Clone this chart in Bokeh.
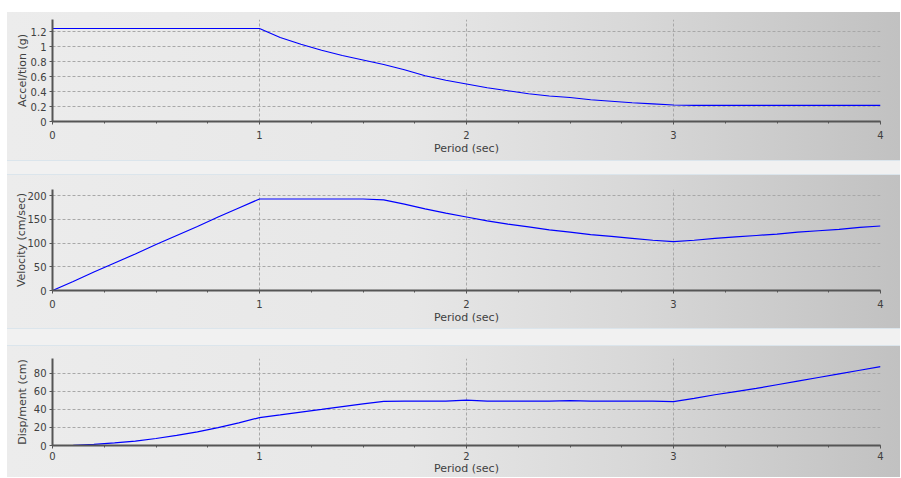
from bokeh.plotting import figure
from bokeh.layouts import column
from bokeh.models import Range1d, SingleIntervalTicker, NumeralTickFormatter, Div
from bokeh.embed import file_html
from bokeh.resources import INLINE

# ---- data ----
period = [0.0, 0.1, 0.2, 0.3, 0.4, 0.5, 0.6, 0.7, 0.8, 0.9,
          1.0, 1.1, 1.2, 1.3, 1.4, 1.5, 1.6, 1.7, 1.8, 1.9,
          2.0, 2.1, 2.2, 2.3, 2.4, 2.5, 2.6, 2.7, 2.8, 2.9,
          3.0, 3.1, 3.2, 3.3, 3.4, 3.5, 3.6, 3.7, 3.8, 3.9, 4.0]

acceleration = [1.24, 1.24, 1.24, 1.24, 1.24, 1.24, 1.24, 1.24, 1.24, 1.24,
                1.24, 1.12, 1.03, 0.95, 0.88, 0.82, 0.76, 0.69, 0.61, 0.55,
                0.50, 0.45, 0.41, 0.37, 0.34, 0.32, 0.29, 0.27, 0.25, 0.235,
                0.22, 0.215, 0.215, 0.215, 0.215, 0.215, 0.215, 0.215, 0.215, 0.215, 0.215]

velocity = [0, 19, 39, 58, 77, 97, 116, 135, 155, 174,
            193, 193, 193, 193, 193, 193, 191, 182, 172, 163,
            155, 147, 140, 134, 128, 123, 118, 114, 110, 106,
            103, 106, 110, 113, 116, 119, 123, 126, 129, 133, 136]

displacement = [0, 0.3, 1.2, 2.8, 4.9, 7.7, 11.1, 15.1, 19.7, 24.9,
                30.8, 33.8, 36.9, 39.8, 43.0, 46.0, 48.7, 49.0, 49.0, 49.0,
                50.0, 49.0, 49.0, 49.0, 49.0, 49.5, 49.0, 49.0, 49.0, 49.0,
                48.5, 52.0, 56.0, 59.5, 63.0, 67.0, 71.0, 75.0, 79.0, 83.0, 87.0]

x_label = "Period (sec)"
y_labels = ["Accel/tion (g)", "Velocity (cm/sec)", "Disp/ment (cm)"]

GRADIENT = "linear-gradient(to right, #ececec 0%, #e7e7e7 45%, #d8d8d8 70%, #c1c1c1 100%)"
TICK_FONT = "DejaVu Sans"
TITLE_FONT = "DejaVu Sans"
W = 893


def make_panel(ys, ylabel, y_end, y_step, height, top, bottom, ylab_standoff,
               xlab_standoff=6, xtitle_standoff=0):
    p = figure(width=W, height=height, output_backend="svg", toolbar_location=None,
               x_range=Range1d(0, 4), y_range=Range1d(0, y_end),
               min_border_left=45, min_border_right=20,
               min_border_top=top, min_border_bottom=bottom,
               background_fill_color=None, border_fill_color=None,
               outline_line_color=None, margin=0,
               styles={"background": GRADIENT})
    p.line(period, ys, line_color="#0000ff", line_width=1.2)

    p.xaxis.ticker = SingleIntervalTicker(interval=1, num_minor_ticks=4)
    p.yaxis.ticker = SingleIntervalTicker(interval=y_step, num_minor_ticks=0)
    p.yaxis.formatter = NumeralTickFormatter(format="0.[0]")

    for ax in (p.xaxis[0], p.yaxis[0]):
        ax.axis_line_color = "#555555"
        ax.axis_line_width = 2
        ax.major_tick_line_color = "#555555"
        ax.minor_tick_line_color = "#555555"
        ax.major_tick_in = 0
        ax.minor_tick_in = 0
        ax.major_tick_out = 3
        ax.minor_tick_out = 2
        ax.major_label_text_font = TICK_FONT
        ax.major_label_text_font_size = "10px"
        ax.major_label_text_color = "#404040"
        ax.axis_label_text_font = TITLE_FONT
        ax.axis_label_text_font_size = "11px"
        ax.axis_label_text_font_style = "normal"
        ax.axis_label_text_color = "#404040"

    p.xaxis.axis_label = x_label
    p.xaxis.major_label_standoff = xlab_standoff
    p.xaxis.axis_label_standoff = xtitle_standoff
    p.yaxis.axis_label = ylabel
    p.yaxis.major_label_standoff = 3
    p.yaxis.axis_label_standoff = ylab_standoff

    for g in (p.xgrid[0], p.ygrid[0]):
        g.grid_line_color = "#a8a8a8"
        g.grid_line_dash = "3 2"
        g.grid_line_width = 1
    return p


def separator(h):
    return Div(text="", width=W, height=h, margin=0,
               styles={"background": "#f1f1f1",
                       "border-top": "1px solid #dbe5ec",
                       "border-bottom": "1px solid #dbe5ec",
                       "box-sizing": "border-box"})


p1 = make_panel(acceleration, y_labels[0], 1.36, 0.2, 148, 7, 39, -1)
p2 = make_panel(velocity, y_labels[1], 213, 50, 153, 14, 38, -4)
p3 = make_panel(displacement, y_labels[2], 96, 20, 131, 12, 31, 2,
                xlab_standoff=3, xtitle_standoff=-1)

layout = column(p1, separator(15), p2, separator(18), p3, spacing=0, margin=(12, 0, 0, 7))

open("out.html", "w").write(file_html(layout, INLINE))
